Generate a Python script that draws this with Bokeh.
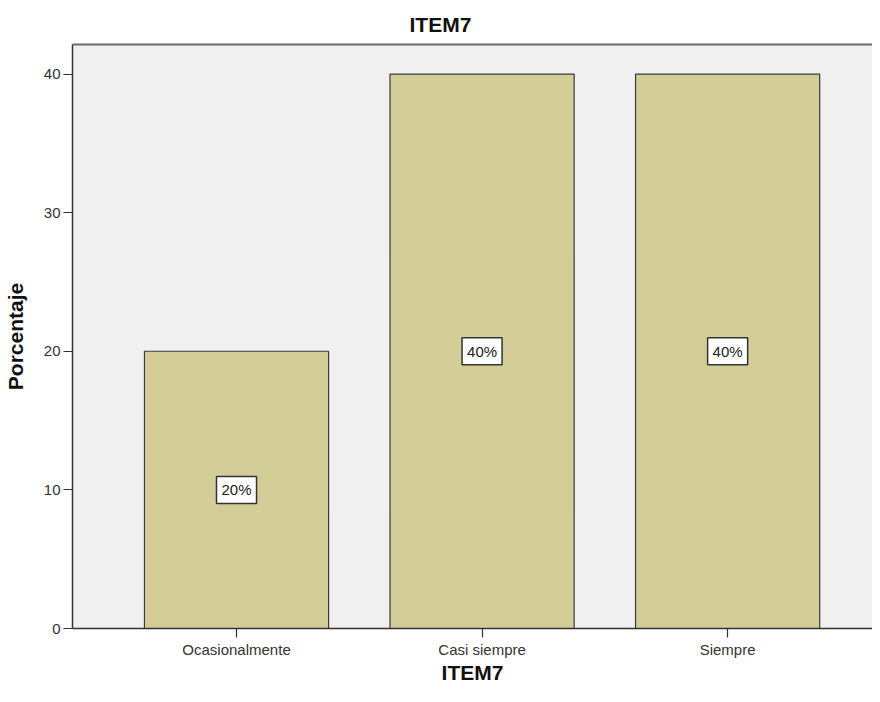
from bokeh.plotting import figure
from bokeh.models import Range1d, FixedTicker, LinearAxis, Title, Label
from bokeh.embed import file_html
from bokeh.resources import INLINE

categories = ["Ocasionalmente", "Casi siempre", "Siempre"]
values = [20, 40, 40]
y_ticks = [0, 10, 20, 30, 40]
x_title = "ITEM7"
y_title = "Porcentaje"
chart_title = "ITEM7"

FONT = "Liberation Sans"
xpos = list(range(len(categories)))

p = figure(width=872, height=686, output_backend="svg", toolbar_location=None,
           title=None,
           x_range=Range1d(-0.668, 2.59), y_range=Range1d(0, 42.13),
           min_border_left=65, min_border_right=0, min_border_top=44, min_border_bottom=0)

p.background_fill_color = "#f0f0f0"
p.border_fill_color = "white"
p.outline_line_color = None
p.grid.visible = False

p.vbar(x=xpos, top=values, width=0.75, fill_color="#d3ce98",
       line_color="#3a3a3a", line_width=1.2)

xa = p.below[0]
ya = p.left[0]

# top frame line
top_axis = LinearAxis(axis_line_color="#6a6a6a", axis_line_width=2,
                      major_tick_line_color=None, minor_tick_line_color=None,
                      major_label_text_font_size="0px", major_label_standoff=0,
                      ticker=FixedTicker(ticks=[]))
p.add_layout(top_axis, "above")

p.add_layout(Title(text=chart_title, align="left", offset=337, text_font=FONT,
                   text_font_size="21px", text_font_style="bold",
                   text_color="#111111", standoff=17), "above")

xa.ticker = FixedTicker(ticks=xpos)
xa.major_label_overrides = {i: c for i, c in zip(xpos, categories)}
xa.axis_label = x_title
ya.ticker = FixedTicker(ticks=y_ticks)
ya.axis_label = y_title

for ax in (xa, ya):
    ax.axis_line_color = "#333333"
    ax.axis_line_width = 1.5
    ax.major_tick_line_color = "#333333"
    ax.major_tick_line_width = 1.2
    ax.major_tick_in = 0
    ax.major_tick_out = 9
    ax.minor_tick_line_color = None
    ax.major_label_text_font = FONT
    ax.major_label_text_font_size = "15px"
    ax.major_label_text_color = "#333333"
    ax.axis_label_text_font = FONT
    ax.axis_label_text_font_size = "21px"
    ax.axis_label_text_font_style = "bold"
    ax.axis_label_text_color = "#111111"

ya.major_label_standoff = 3
ya.axis_label_standoff = 14
xa.major_label_standoff = 3
xa.axis_label_standoff = 0

for x, v in zip(xpos, values):
    p.add_layout(Label(x=x, y=v / 2, text=f"{v}%", text_align="center",
                       text_baseline="middle", text_font=FONT, text_font_size="15px",
                       text_color="#222222", background_fill_color="white",
                       border_line_color="#333333", border_line_width=1.5,
                       padding=5))

open("out.html", "w").write(file_html(p, INLINE))
